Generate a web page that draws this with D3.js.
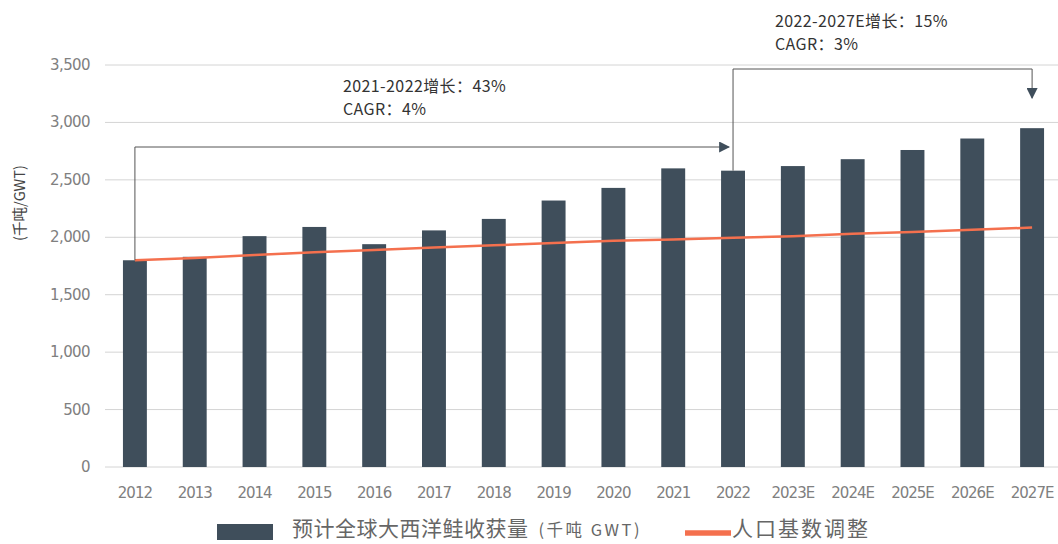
<!DOCTYPE html>
<html>
<head>
<meta charset="utf-8">
<script src="https://cdn.jsdelivr.net/npm/d3@7"></script>
<style>
  body { margin: 0; background: #fff; }
  svg { display: block; font-family: "Noto Sans CJK SC", "Noto Sans", sans-serif; }
</style>
</head>
<body>
<svg id="chart" width="1058" height="544"></svg>
<script>
'use strict';

const years = ['2012', '2013', '2014', '2015', '2016', '2017', '2018', '2019',
    '2020', '2021', '2022', '2023E', '2024E', '2025E', '2026E', '2027E'];
const harvest = [1800, 1830, 2010, 2090, 1940, 2060, 2160, 2320,
    2430, 2600, 2580, 2620, 2680, 2760, 2860, 2950];
const population = [1800, 1820, 1845, 1870, 1890, 1910, 1930, 1950,
    1970, 1980, 1995, 2010, 2030, 2045, 2065, 2085];
const yTicks = [0, 500, 1000, 1500, 2000, 2500, 3000, 3500];

const BAR_COLOR = '#3f4e5b';
const LINE_COLOR = '#f4704e';

const svg = d3.select('#chart');

const x = d3.scaleBand()
    .domain(years)
    .range([105, 1062])
    .padding(0.6)
    .paddingOuter(0.3);

const y = d3.scaleLinear()
    .domain([0, 3500])
    .range([467, 65]);

const cx = d => x(d) + x.bandwidth() / 2;

// gridlines
svg.append('g')
    .selectAll('line')
    .data(yTicks)
    .enter().append('line')
    .attr('x1', 105)
    .attr('x2', 1058)
    .attr('y1', d => y(d))
    .attr('y2', d => y(d))
    .attr('stroke', '#d4d4d4')
    .attr('stroke-width', 1);

// y axis labels
svg.append('g')
    .selectAll('text')
    .data(yTicks)
    .enter().append('text')
    .attr('x', 90)
    .attr('y', d => y(d) + 5)
    .attr('text-anchor', 'end')
    .attr('fill', '#808080')
    .style('font-size', '15px')
    .style('font-family', '"DejaVu Sans", sans-serif')
    .style('letter-spacing', '-0.6px')
    .text(d => d3.format(',')(d));

svg.append('text')
    .attr('transform', 'translate(25,203) rotate(-90)')
    .attr('text-anchor', 'middle')
    .attr('fill', '#444')
    .style('font-size', '14.5px')
    .text('(千吨/GWT)');

// bars
svg.append('g')
    .selectAll('rect')
    .data(years)
    .enter().append('rect')
    .attr('x', d => x(d))
    .attr('y', (d, i) => y(harvest[i]))
    .attr('width', x.bandwidth())
    .attr('height', (d, i) => y(0) - y(harvest[i]))
    .attr('fill', BAR_COLOR);

// x labels
svg.append('g')
    .selectAll('text')
    .data(years)
    .enter().append('text')
    .attr('x', d => cx(d))
    .attr('y', 498)
    .attr('text-anchor', 'middle')
    .attr('fill', '#808080')
    .style('font-size', '15px')
    .style('font-family', '"DejaVu Sans", sans-serif')
    .style('letter-spacing', '-1px')
    .text(d => d);

// population line
const line = d3.line()
    .x((d, i) => cx(years[i]))
    .y(d => y(d));

svg.append('path')
    .datum(population)
    .attr('d', line)
    .attr('fill', 'none')
    .attr('stroke', LINE_COLOR)
    .attr('stroke-width', 2.5);

// annotation arrows
svg.append('defs').append('marker')
    .attr('id', 'arrow')
    .attr('viewBox', '0 0 10 10')
    .attr('refX', 9)
    .attr('refY', 5)
    .attr('markerWidth', 11)
    .attr('markerHeight', 11)
    .attr('markerUnits', 'userSpaceOnUse')
    .attr('orient', 'auto')
    .append('path')
    .attr('d', 'M0,0 L10,5 L0,10 Z')
    .attr('fill', BAR_COLOR);

const i2012 = years.indexOf('2012');
const i2022 = years.indexOf('2022');

svg.append('path')
    .attr('d', `M${cx('2012')},${y(harvest[i2012])} V147 H${cx('2022') - 4}`)
    .attr('fill', 'none')
    .attr('stroke', '#555')
    .attr('stroke-width', 1)
    .attr('marker-end', 'url(#arrow)');

svg.append('path')
    .attr('d', `M${cx('2022')},${y(harvest[i2022])} V69 H${cx('2027E')} V98`)
    .attr('fill', 'none')
    .attr('stroke', '#555')
    .attr('stroke-width', 1)
    .attr('marker-end', 'url(#arrow)');

const notes = [
    {x: 343, y: 92, lines: ['2021-2022增长：43%', 'CAGR：4%']},
    {x: 775, y: 27, lines: ['2022-2027E增长：15%', 'CAGR：3%']}
];
notes.forEach(n => {
    n.lines.forEach((t, k) => {
        svg.append('text')
            .attr('x', n.x)
            .attr('y', n.y + k * 23)
            .attr('fill', '#333')
            .style('font-size', '16px')
            .style('letter-spacing', '0.4px')
            .text(t);
    });
});

// legend
svg.append('rect')
    .attr('x', 217).attr('y', 524)
    .attr('width', 56).attr('height', 16)
    .attr('fill', BAR_COLOR);

const leg1 = svg.append('text')
    .attr('x', 292).attr('y', 536)
    .attr('fill', '#666')
    .style('font-size', '21px')
    .style('letter-spacing', '0.5px');
leg1.append('tspan').text('预计全球大西洋鲑收获量');
leg1.append('tspan')
    .attr('dx', 10)
    .style('font-size', '16.5px')
    .style('letter-spacing', '2.5px')
    .text('(千吨 GWT)');

svg.append('line')
    .attr('x1', 685).attr('x2', 731)
    .attr('y1', 533).attr('y2', 533)
    .attr('stroke', LINE_COLOR)
    .attr('stroke-width', 5.5);

svg.append('text')
    .attr('x', 732).attr('y', 536)
    .attr('fill', '#666')
    .style('font-size', '21px')
    .style('letter-spacing', '2px')
    .text('人口基数调整');
</script>
</body>
</html>
